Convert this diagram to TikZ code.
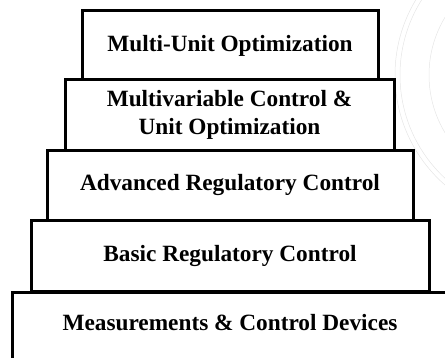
\documentclass[tikz,border=0pt]{standalone}
\usepackage{fontspec}
\setmainfont{Liberation Serif}
\begin{document}
\begin{tikzpicture}[x=1pt,y=1pt,
  layer/.style={draw, fill=white, line width=3pt, inner sep=0pt, align=center,
    font=\bfseries\fontsize{23.3}{28}\selectfont},
  label text/.style={inner sep=0pt, align=center, font=\bfseries\fontsize{23.3}{28}\selectfont},
  wmark/.style={draw=gray!20, line width=0.5pt}]
\useasboundingbox (0,0) rectangle (445,357);
\clip (0,0) rectangle (445,357);
% faint watermark rings
\draw[wmark] (541,282) circle (146);
\draw[wmark] (541,282) circle (141);
\draw[wmark] (541,282) circle (112);
% bottom layer (extends past the page edge)
\node[layer, minimum width=470, minimum height=90, anchor=north west] (b5) at (11,66) {};
\node[label text] (t5) at (230,34) {Measurements \& Control Devices};
\node[layer, minimum width=398, minimum height=71] (b4) at (230,101.5) {Basic Regulatory Control};
\node[layer, minimum width=366, minimum height=70] (b3) at (230,172) {Advanced Regulatory Control};
\node[layer, minimum width=329, minimum height=70] (b2) at (229.5,242) {Multivariable Control \&\\Unit Optimization};
\node[layer, minimum width=296, minimum height=69] (b1) at (230,311.5) {Multi-Unit Optimization};
\end{tikzpicture}
\end{document}
